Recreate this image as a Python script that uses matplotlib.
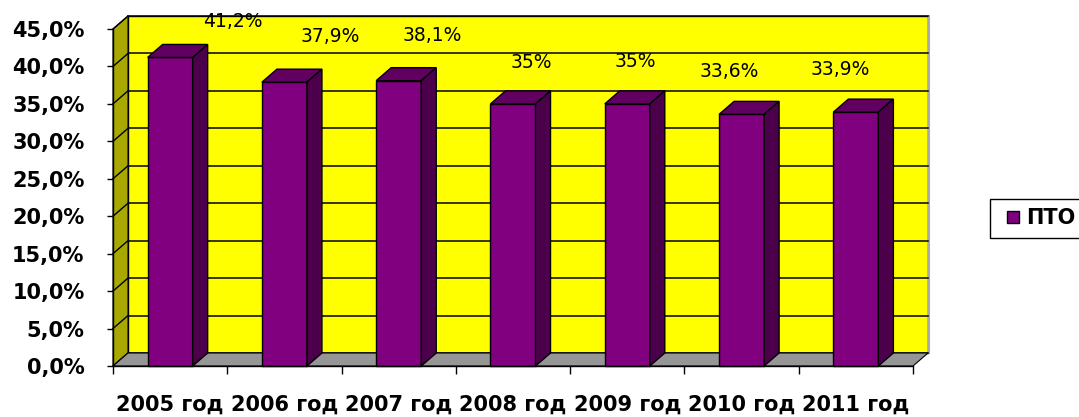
import matplotlib
matplotlib.use("Agg")
import matplotlib.pyplot as plt
from matplotlib.patches import Rectangle, Polygon
from matplotlib.lines import Line2D
import numpy as np

# ---- data ----
categories = ["2005 год", "2006 год", "2007 год", "2008 год", "2009 год", "2010 год", "2011 год"]
values = [41.2, 37.9, 38.1, 35.0, 35.0, 33.6, 33.9]
series_name = "ПТО"
y_ticks = [0, 5, 10, 15, 20, 25, 30, 35, 40, 45]

# ---- styles ----
label_dx_px = [63, 46, 34, 18, 8, -12, -16]
label_dy_px = [36, 46, 45, 41, 42, 43, 43]
YELLOW = "#FFFF00"
OLIVE = "#A8A800"
FLOOR = "#969696"
FRONT = "#800080"
TOP = "#620062"
SIDE = "#4C004C"

W, H = 1079, 417
fig = plt.figure(figsize=(W / 100, H / 100), dpi=100)
ax_l, ax_b, ax_w, ax_h = 113, 51, 800, 337
ax = fig.add_axes([ax_l / W, ax_b / H, ax_w / W, ax_h / H])
n = len(categories)
ax.set_xlim(-0.5, n - 0.5)
ax.set_ylim(0, 45)
ax.patch.set_visible(False)

px_x = ax_w / n
px_y = ax_h / 45
DX = 15 / px_x
DY = 13 / px_y
x0, x1 = -0.5, n - 0.5

# back wall
ax.add_patch(Rectangle((x0 + DX, DY), n, 45, fc=YELLOW, ec="black", lw=1.0,
                       zorder=0, clip_on=False))
ax.plot([x1 + DX + 0.012, x1 + DX + 0.012], [DY, 45 + DY], color="#aaaaaa", lw=1.5,
        clip_on=False, zorder=0)
for t in y_ticks:
    ax.plot([x0 + DX, x1 + DX], [t + DY, t + DY], color="black", lw=1.1,
            clip_on=False, zorder=0.5)

# left wall
ax.add_patch(Polygon([(x0, 0), (x0 + DX, DY), (x0 + DX, 45 + DY), (x0, 45)],
                     closed=True, fc=OLIVE, ec="black", lw=0.8, zorder=0.6, clip_on=False))
for t in y_ticks:
    ax.plot([x0, x0 + DX], [t, t + DY], color="black", lw=1.0, clip_on=False, zorder=0.7)

# floor
ax.add_patch(Polygon([(x0, 0), (x1, 0), (x1 + DX, DY), (x0 + DX, DY)],
                     closed=True, fc=FLOOR, ec="black", lw=0.8, zorder=0.8, clip_on=False))

# bars
xs = np.arange(n)
bw = 0.394
ax.bar(xs, values, width=bw, color=FRONT, edgecolor="black", lw=1.0, zorder=3, clip_on=False)
for x, v in zip(xs, values):
    l, r = x - bw / 2, x + bw / 2
    ax.add_patch(Polygon([(l, v), (r, v), (r + DX, v + DY), (l + DX, v + DY)], closed=True,
                         fc=TOP, ec="black", lw=1.0, zorder=3, clip_on=False))
    ax.add_patch(Polygon([(r, 0), (r + DX, DY), (r + DX, v + DY), (r, v)], closed=True,
                         fc=SIDE, ec="black", lw=1.0, zorder=3, clip_on=False))

# data labels
for x, v, dx, dy in zip(xs, values, label_dx_px, label_dy_px):
    txt = f"{v:g}".replace(".", ",") + "%"
    ax.annotate(txt, xy=(x, v), xytext=(dx * 0.72, dy * 0.72), textcoords="offset points",
                ha="center", va="center", fontsize=13.5, color="black",
                annotation_clip=False, zorder=5)

# axes
for s in ["top", "right"]:
    ax.spines[s].set_visible(False)
for s in ["left", "bottom"]:
    ax.spines[s].set_color("black")
    ax.spines[s].set_linewidth(1.0)
    ax.spines[s].set_zorder(4)

ax.set_yticks(y_ticks)
ax.set_yticklabels([f"{t:.1f}".replace(".", ",") + "%" for t in y_ticks],
                   fontsize=15, fontweight="bold")
ax.tick_params(axis="y", length=4.5, width=1, pad=16, color="black")

ax.set_xticks(np.arange(n + 1) - 0.5)
ax.set_xticklabels([])
ax.tick_params(axis="x", which="major", length=6, width=1, color="black")
ax.set_xticks(xs, minor=True)
ax.set_xticklabels(categories, minor=True, fontsize=15, fontweight="bold")
ax.tick_params(axis="x", which="minor", length=0, pad=21)

# legend
handle = Line2D([], [], marker="s", ls="none", markersize=8.6, markerfacecolor=FRONT,
                markeredgecolor="black", markeredgewidth=1.0)
leg = fig.legend(handles=[handle], labels=[series_name], loc="center left",
                 bbox_to_anchor=(990 / W, 1 - 218.5 / H), frameon=True, fancybox=False,
                 edgecolor="black", framealpha=1, prop=dict(weight="bold", size=15),
                 handlelength=1.3, handletextpad=0.0, borderpad=0.45, borderaxespad=0)
leg.get_frame().set_linewidth(1.0)

fig.savefig("out.png", dpi=100)
